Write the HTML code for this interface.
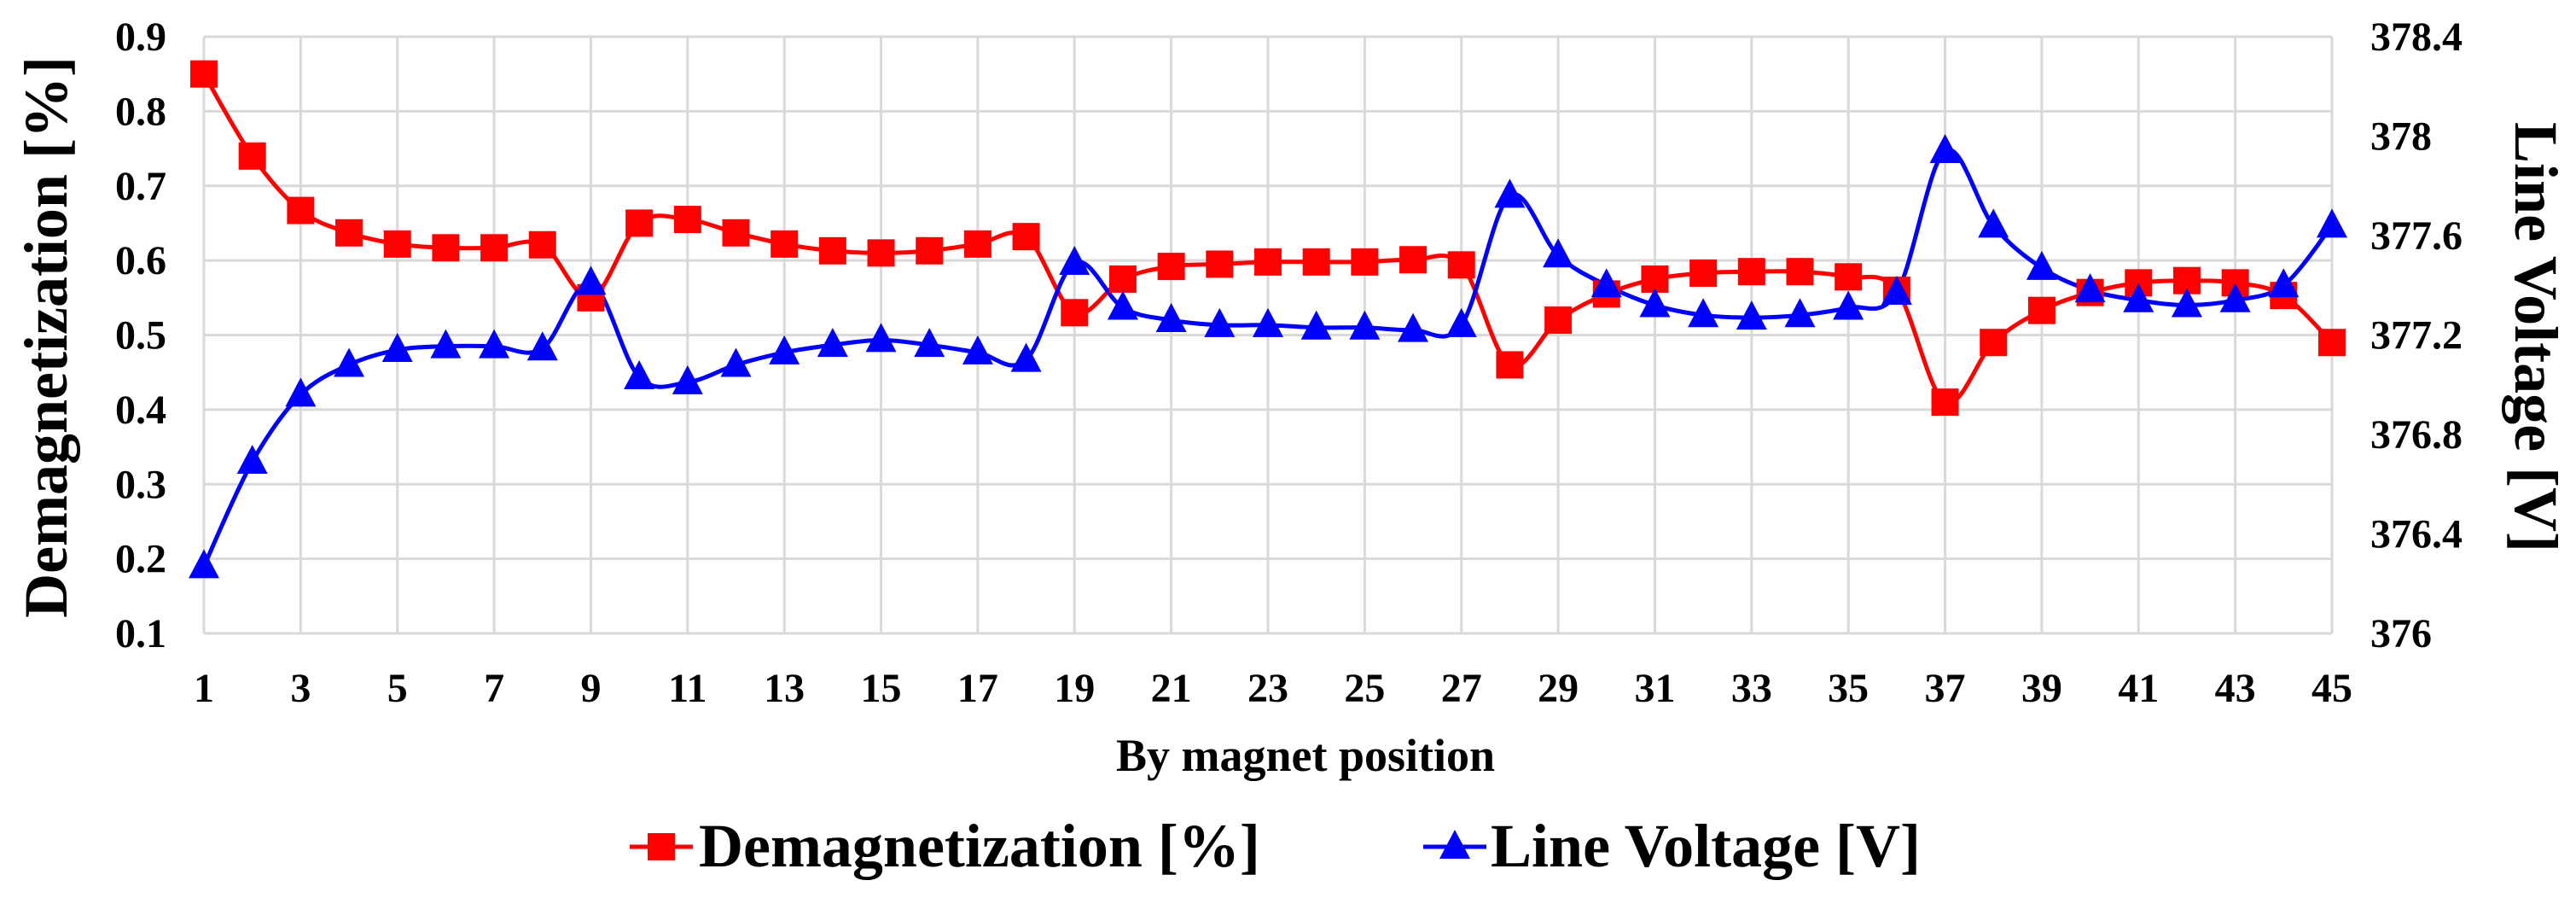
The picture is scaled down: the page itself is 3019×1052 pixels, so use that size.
<!DOCTYPE html>
<html><head><meta charset="utf-8"><style>
html,body{margin:0;padding:0;background:#fff;}
svg{display:block;}
text{font-family:"Liberation Serif",serif;font-weight:bold;fill:#000;}
</style></head><body>
<svg id="chart" width="3019" height="1052" xmlns="http://www.w3.org/2000/svg">
<g id="grid"></g>
<g id="axes"></g>
<g id="series"></g>
<text transform="translate(78,395) rotate(-90)" text-anchor="middle" font-size="72">Demagnetization [%]</text>
<text transform="translate(2948,395) rotate(90)" text-anchor="middle" font-size="72">Line Voltage [V]</text>
<text x="1530" y="903" text-anchor="middle" font-size="54">By magnet position</text>
<g>
<g>
<line x1="738" y1="992" x2="812" y2="992" stroke="#ff0000" stroke-width="5"/>
<rect x="759" y="976" width="32" height="32" fill="#ff0000"/>
<text x="819" y="1015" font-size="72">Demagnetization [%]</text>
</g>
<g>
<line x1="1668" y1="992" x2="1742" y2="992" stroke="#0000ff" stroke-width="5"/>
<polygon points="1705,972 1723,1006 1687,1006" fill="#0000ff"/>
<text x="1747" y="1015" font-size="72">Line Voltage [V]</text>
</g>
</g>
</svg>
<script>
const categories = Array.from({length:45},(_,i)=>i+1);
const demag = [0.85,0.74,0.667,0.637,0.622,0.617,0.617,0.621,0.55,0.65,0.655,0.637,0.622,0.613,0.61,0.613,0.622,0.632,0.53,0.575,0.592,0.595,0.598,0.598,0.598,0.601,0.594,0.46,0.52,0.555,0.575,0.583,0.585,0.585,0.578,0.56,0.41,0.49,0.533,0.557,0.57,0.573,0.57,0.553,0.49];
const voltage = [376.27,376.69,376.96,377.08,377.14,377.155,377.155,377.146,377.41,377.03,377.01,377.08,377.13,377.16,377.18,377.16,377.13,377.1,377.49,377.31,377.26,377.24,377.24,377.23,377.23,377.22,377.24,377.76,377.52,377.4,377.32,377.28,377.27,377.28,377.31,377.37,377.94,377.64,377.47,377.38,377.34,377.32,377.34,377.4,377.64];
const leftTicks = [0.1,0.2,0.3,0.4,0.5,0.6,0.7,0.8,0.9];
const rightTicks = ["376","376.4","376.8","377.2","377.6","378","378.4"];

const NS="http://www.w3.org/2000/svg";
const L=239,R=2733,T=43,B=742;
const xs=c=>L+(c-1)*(R-L)/44;
const yl=v=>B-(v-0.1)/0.8*(B-T);
const yr=v=>B-(v-376)/2.4*(B-T);
function mk(tag,attrs,parent){const e=document.createElementNS(NS,tag);for(const k in attrs)e.setAttribute(k,attrs[k]);parent.appendChild(e);return e;}
const grid=document.getElementById('grid'),axes=document.getElementById('axes'),ser=document.getElementById('series');
leftTicks.forEach(v=>{
  const y=yl(v);
  const g=mk('line',{x1:L,x2:R,y1:y,y2:y,stroke:'#d9d9d9','stroke-width':3},grid);
  
  
  const t=mk('text',{x:195,y:y+16,'text-anchor':'end','font-size':48},axes);
  t.textContent=(v===1?'1':v.toFixed(1));
  
  
});
categories.forEach(c=>{
  if(c%2===1){
    const x=xs(c);
    const g=mk('line',{x1:x,x2:x,y1:T,y2:B,stroke:'#d9d9d9','stroke-width':3},grid);
    
    
    const t=mk('text',{x:x,y:822,'text-anchor':'middle','font-size':48},axes);
    t.textContent=c;
    
    
  }
});
rightTicks.forEach(s=>{
  const t=mk('text',{x:2778,y:yr(parseFloat(s))+16,'text-anchor':'start','font-size':48},axes);
  t.textContent=s;
  
  
});
function smooth(pts){
  let d='M'+pts[0][0]+','+pts[0][1];
  for(let i=0;i<pts.length-1;i++){
    const p0=pts[Math.max(0,i-1)],p1=pts[i],p2=pts[i+1],p3=pts[Math.min(pts.length-1,i+2)];
    const k=1/6;
    d+=' C'+(p1[0]+(p2[0]-p0[0])*k)+','+(p1[1]+(p2[1]-p0[1])*k)+' '+(p2[0]-(p3[0]-p1[0])*k)+','+(p2[1]-(p3[1]-p1[1])*k)+' '+p2[0]+','+p2[1];
  }
  return d;
}
const rp=categories.map((c,i)=>[xs(c),yl(demag[i])]);
const bp=categories.map((c,i)=>[xs(c),yr(voltage[i])]);
const rl=mk('path',{d:smooth(rp),fill:'none',stroke:'#ff0000','stroke-width':5},ser);


const bl=mk('path',{d:smooth(bp),fill:'none',stroke:'#0000ff','stroke-width':5},ser);


rp.forEach(p=>{
  const r=mk('rect',{x:p[0]-16,y:p[1]-16,width:32,height:32,fill:'#ff0000'},ser);
  
  
});
bp.forEach(p=>{
  const t=mk('polygon',{points:(p[0])+','+(p[1]-20)+' '+(p[0]+18)+','+(p[1]+14)+' '+(p[0]-18)+','+(p[1]+14),fill:'#0000ff'},ser);
  
  
});
</script>
</body></html>
